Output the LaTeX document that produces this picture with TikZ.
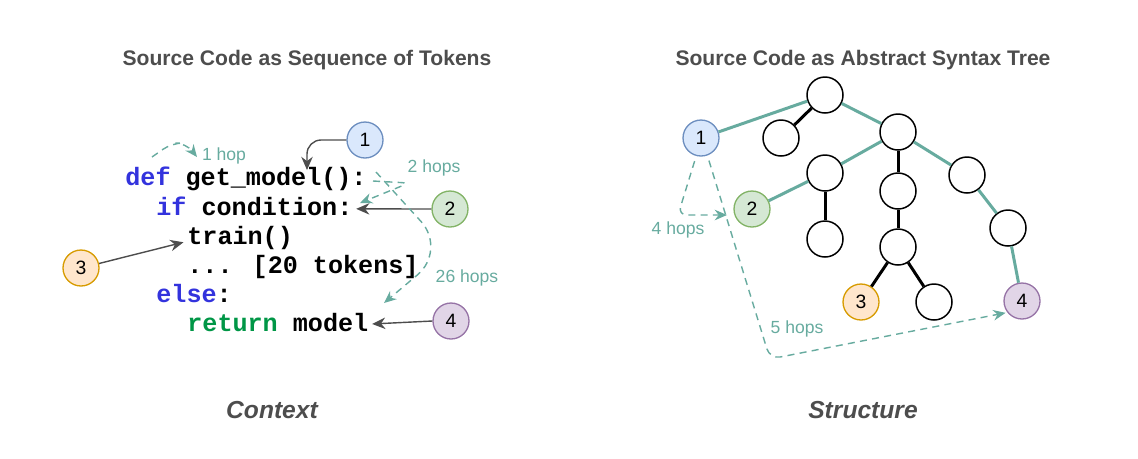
\documentclass[tikz,border=0pt]{standalone}
\usepackage{fontspec}
\setmainfont{Liberation Sans}
\newfontfamily\codefont{Liberation Mono}
\usetikzlibrary{
  arrows.meta,
  positioning
}
\definecolor{titlegray}{RGB}{77,77,77}
\definecolor{arrowgray}{RGB}{77,77,77}
\definecolor{hopteal}{RGB}{103,171,159}
\definecolor{kwblue}{RGB}{51,51,221}
\definecolor{kwgreen}{RGB}{0,150,70}
\definecolor{fillone}{RGB}{218,232,252}
\definecolor{lineone}{RGB}{108,142,191}
\definecolor{filltwo}{RGB}{213,232,212}
\definecolor{linetwo}{RGB}{130,179,102}
\definecolor{fillthree}{RGB}{255,230,204}
\definecolor{linethree}{RGB}{215,155,0}
\definecolor{fillfour}{RGB}{225,213,231}
\definecolor{linefour}{RGB}{150,115,166}
\tikzset{
  numnode/.style={circle,minimum size=0.72cm,inner sep=0pt,line width=0.75pt,
    font=\fontsize{11}{13}\selectfont},
  treenode/.style={circle,draw,line width=0.85pt,minimum size=0.72cm,inner sep=0pt,fill=white},
  codeline/.style={anchor=base west,inner sep=0pt,
    font=\codefont\bfseries\fontsize{14.3}{16}\selectfont},
  pointer/.style={draw=arrowgray,line width=0.8pt,-{Stealth[length=7.5pt,width=6.5pt]}},
  hop/.style={draw=hopteal,line width=0.8pt,dash pattern=on 4pt off 3pt,
    -{Stealth[length=7pt,width=6pt]}},
  hoplabel/.style={text=hopteal,font=\fontsize{10}{12}\selectfont},
  pathedge/.style={draw=hopteal,line width=1.7pt},
  plainedge/.style={draw=black,line width=1.7pt},
  heading/.style={text=titlegray,font=\bfseries\fontsize{12}{14}\selectfont},
  caption/.style={text=titlegray,font=\bfseries\itshape\fontsize{14}{16}\selectfont}
}
\newcommand{\numcirc}[5]{%
  \node[numnode,fill=#4,draw=#5] (#1) at (#2) {#3};%
}
\newcommand{\astnode}[2]{%
  \node[treenode] (#1) at (#2) {};%
}

\begin{document}
\begin{tikzpicture}[x=0.02cm,y=-0.02cm]
  \useasboundingbox (0,0) rectangle (1138,458);
  \node[heading] (tokhead) at (307,60) {Source Code as Sequence of Tokens};
  \node[heading] (asthead) at (863,60) {Source Code as Abstract Syntax Tree};
  \node[caption] (tokcap) at (272,410) {Context};
  \node[caption] (astcap) at (863,410) {Structure};

  % token view
  \node[codeline] (line1) at (125,185) {\textcolor{kwblue}{def} get\_model():};
  \node[codeline] (line2) at (156,215) {\textcolor{kwblue}{if} condition:};
  \node[codeline] (line3) at (187,244) {train()};
  \node[codeline] (line4) at (187,273) {... [20 tokens]};
  \node[codeline] (line5) at (156,302) {\textcolor{kwblue}{else}:};
  \node[codeline] (line6) at (187,331) {\textcolor{kwgreen}{return} model};
  \numcirc{n1}{365,140}{1}{fillone}{lineone}
  \numcirc{n2}{450,209}{2}{filltwo}{linetwo}
  \numcirc{n3}{81,268}{3}{fillthree}{linethree}
  \numcirc{n4}{451,321}{4}{fillfour}{linefour}
  \coordinate (modeltok) at (307,170);
  \draw[pointer,rounded corners=8pt] (n1.west) -| (modeltok);
  \draw[pointer] (n2.west) -- ([xshift=2pt,yshift=3.5pt]line2.base east);
  \draw[pointer] (n3) -- ([xshift=-2pt,yshift=1pt]line3.base west);
  \draw[pointer] (n4.west) -- ([xshift=2pt,yshift=4pt]line6.base east);

  \coordinate (defstart) at (152,157);
  \coordinate (gettok) at (197,157);
  \coordinate (colontok) at (373,181);
  \coordinate (condtok) at (360,203);
  \coordinate (colonfar) at (376,172);
  \coordinate (returntok) at (384,303);
  \draw[hop,rounded corners=6pt] (defstart) -- (172,143) -- (186,143) -- (gettok);
  \draw[hop,rounded corners=4pt] (colontok) -- (409,183) -- (condtok);
  \draw[hop,rounded corners=22pt] (colonfar) -- (447,250) -- (returntok);
  \node[hoplabel] (hop1) at (224,156) {1 hop};
  \node[hoplabel] (hop2) at (434,168) {2 hops};
  \node[hoplabel] (hop26) at (467,278) {26 hops};

  % tree view
  \astnode{root}{825,95}
  \astnode{rootleft}{781,138}
  \astnode{hub}{898,132}
  \astnode{hubleft}{825,173}
  \astnode{hubleftkid}{825,239}
  \astnode{hubmid}{898,191}
  \astnode{hubmidkid}{898,247}
  \astnode{hubmidleaf}{934,302}
  \astnode{hubright}{967,175}
  \astnode{hubrightkid}{1008,228}
  \numcirc{t1}{701,138}{1}{fillone}{lineone}
  \numcirc{t2}{752,209}{2}{filltwo}{linetwo}
  \numcirc{t3}{861,302}{3}{fillthree}{linethree}
  \numcirc{t4}{1022,301}{4}{fillfour}{linefour}
  \draw[pathedge] (t1) -- (root);
  \draw[pathedge] (root) -- (hub);
  \draw[pathedge] (hub) -- (hubleft);
  \draw[pathedge] (hubleft) -- (t2);
  \draw[pathedge] (hub) -- (hubright);
  \draw[pathedge] (hubright) -- (hubrightkid);
  \draw[pathedge] (hubrightkid) -- (t4);
  \draw[plainedge] (root) -- (rootleft);
  \draw[plainedge] (hubleft) -- (hubleftkid);
  \draw[plainedge] (hub) -- (hubmid);
  \draw[plainedge] (hubmid) -- (hubmidkid);
  \draw[plainedge] (hubmidkid) -- (t3);
  \draw[plainedge] (hubmidkid) -- (hubmidleaf);

  \coordinate (fourend) at (727,215);
  \draw[hop,rounded corners=5pt,shorten <=3pt] (t1.255) -- (678,215) -- (fourend);
  \draw[hop,rounded corners=6pt,shorten <=3pt,shorten >=1pt] (t1.290) -- (770,359) -- (t4.218);
  \node[hoplabel] (hop4) at (678,230) {4 hops};
  \node[hoplabel] (hop5) at (797,329) {5 hops};
\end{tikzpicture}
\end{document}
